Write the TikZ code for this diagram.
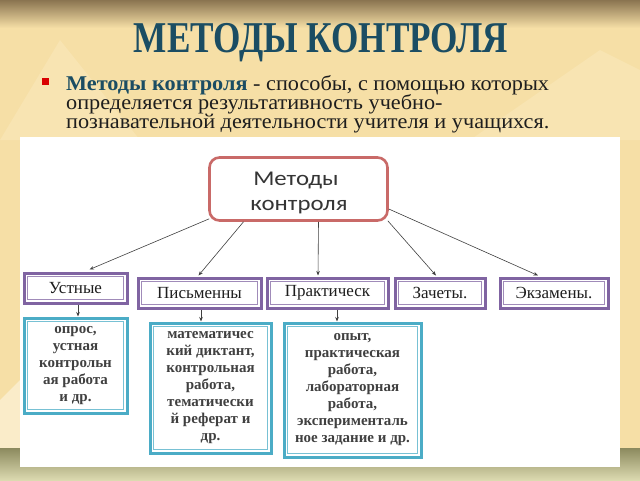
\documentclass[tikz,border=0pt]{standalone}
\usepackage{fontspec}
\setmainfont{Liberation Serif}
\newfontfamily\calib{Carlito}
\usetikzlibrary{arrows.meta,calc}
\definecolor{bgcream}{HTML}{F6DFA6}
\definecolor{bglight}{HTML}{F8E4B2}
\definecolor{bgtop}{HTML}{8A7450}
\definecolor{titleblue}{HTML}{1B4D63}
\definecolor{boxpurple}{HTML}{8064A2}
\definecolor{boxteal}{HTML}{4BACC6}
\definecolor{boxred}{HTML}{C0504D}
\definecolor{bandtop}{HTML}{8C8A5E}
\definecolor{bandbot}{HTML}{DCDAB0}
\definecolor{txt}{HTML}{1E1E1E}
\begin{document}
\begin{tikzpicture}[x=1pt,y=-1pt,
  purplebox/.style={draw=boxpurple, line width=3pt, fill=white, inner sep=0pt,
    font=\fontsize{17}{19}\selectfont, text=txt,
    path picture={\draw[boxpurple!75,line width=0.8pt]
      ([shift={(3.3pt,-3.3pt)}]path picture bounding box.north west) rectangle
      ([shift={(-3.3pt,3.3pt)}]path picture bounding box.south east);}},
  tealbox/.style={draw=boxteal, line width=3pt, fill=white, inner sep=0pt, align=center,
    font=\fontsize{15}{17}\selectfont\bfseries, text=txt!85,
    path picture={\draw[boxteal!75,line width=0.8pt]
      ([shift={(3.3pt,-3.3pt)}]path picture bounding box.north west) rectangle
      ([shift={(-3.3pt,3.3pt)}]path picture bounding box.south east);}},
  redbox/.style={draw=boxred!85, line width=2.6pt, fill=white, rounded corners=10pt},
  centertext/.style={font=\calib\fontsize{21}{26}\selectfont, text=txt!90, anchor=base},
  bodytext/.style={anchor=base west, inner sep=0pt, text=txt, font=\fontsize{21}{21}\selectfont},
  arr/.style={-{Stealth[length=4.5pt,width=3.5pt]}, line width=0.6pt, draw=txt!85}
]
\useasboundingbox (0,0) rectangle (640,480);
% background
\fill[bgcream] (0,0) rectangle (640,480);
\fill[bglight] (0,140) -- (60,40) -- (140,140) -- cycle;
\fill[bglight] (470,140) -- (600,50) -- (640,70) -- (640,140) -- cycle;
\fill[bglight!70!white] (0,400) -- (20,380) -- (20,448) -- (0,448) -- cycle;
\shade[top color=bgtop, bottom color=bgcream] (0,0) rectangle (640,28);
\shade[top color=bandtop, bottom color=bandbot] (0,448) rectangle (640,480);
\fill[white] (20,137) rectangle (620,467);
% title
\node[anchor=base, text=titleblue, font=\fontsize{44}{48}\selectfont\bfseries] (title) at (321,52)
  {\scalebox{0.8}[1]{МЕТОДЫ КОНТРОЛЯ}};
% bullet text
\fill[red!85!black] (42,78) rectangle (49,85);
\node[bodytext] (l1) at (66,90)
  {\scalebox{1.06}[1]{\textbf{\color{titleblue}Методы контроля} - способы, с помощью которых}};
\node[bodytext] (l2) at (66,109)
  {\scalebox{1.06}[1]{определяется результативность учебно-}};
\node[bodytext] (l3) at (66,128)
  {\scalebox{1.06}[1]{познавательной деятельности учителя и учащихся.}};
% diagram
\node[redbox, minimum width=178pt, minimum height=63pt] (c) at (298.5,189) {};
\node[centertext] (ct1) at (296,185) {\scalebox{1.18}[1]{Методы}};
\node[centertext] (ct2) at (299,210) {\scalebox{1.18}[1]{контроля}};
\node[purplebox, minimum width=103pt, minimum height=30pt] (ust) at (75.5,288) {Устные};
\node[purplebox, minimum width=123pt, minimum height=30pt] (pis) at (199.5,293) {Письменны};
\node[purplebox, minimum width=121pt, minimum height=30pt] (pra) at (327.5,293) {Практическ};
\node[purplebox, minimum width=90pt, minimum height=30pt] (zach) at (440,293) {Зачеты.};
\node[purplebox, minimum width=108pt, minimum height=30pt] (ekz) at (554,293) {Экзамены.};
\node[tealbox, minimum width=103pt, minimum height=95pt] (b1) at (75.5,365.5)
  {опрос,\\устная\\контрольн\\ая работа\\и др.};
\node[tealbox, minimum width=121pt, minimum height=130pt] (b2) at (210.5,388)
  {математичес\\кий диктант,\\контрольная\\работа,\\тематически\\й реферат и\\др.};
\node[tealbox, minimum width=137pt, minimum height=134pt] (b3) at (352.5,390)
  {опыт,\\практическая\\работа,\\лабораторная\\работа,\\эксперименталь\\ное задание и др.};
% connectors
\draw[arr] ([shift={(1pt,3pt)}]c.south west) -- ([shift={(14pt,2pt)}]ust.north);
\draw[arr] ([xshift=-55pt]c.south) -- ([xshift=-1pt,yshift=1pt]pis.north);
\draw[arr] ([xshift=20pt]c.south) -- ([xshift=-9.5pt,yshift=1pt]pra.north);
\draw[arr] ([shift={(-1pt,1pt)}]c.south east) -- ([xshift=-4pt,yshift=1pt]zach.north);
\draw[arr] ([yshift=-20pt]c.east) -- ([xshift=-16pt,yshift=1pt]ekz.north);
\draw[arr] ([xshift=2.5pt]ust.south) -- ([xshift=2.5pt]b1.north);
\draw[arr] ([xshift=1.5pt]pis.south) -- ([xshift=-9.5pt]b2.north);
\draw[arr] ([xshift=9.5pt]pra.south) -- ([xshift=-15.5pt]b3.north);
\end{tikzpicture}
\end{document}
